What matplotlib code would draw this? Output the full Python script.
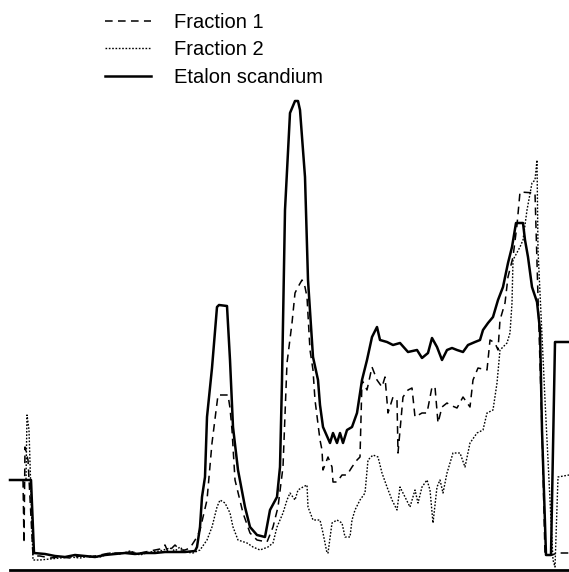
import matplotlib
matplotlib.use("Agg")
import matplotlib.pyplot as plt

# channel positions and intensities (arbitrary units)
etalon_x = [10, 31, 34, 45, 55, 65, 75, 85, 95, 105, 115, 125, 135, 145, 155, 165, 175, 185, 195,
            197, 200, 202, 205, 207, 212, 217, 219, 227, 230, 233, 238, 245, 250, 257, 265, 270, 277,
            280, 282, 285, 290, 295, 298, 300, 305, 308, 313, 318, 320, 323, 330, 333, 337, 340, 343,
            347, 352, 357, 362, 367, 372, 377, 380, 387, 393, 400, 408, 417, 422, 428, 432, 437, 442,
            447, 452, 457, 463, 468, 475, 480, 483, 488, 493, 498, 503, 508, 512, 516, 523, 525, 528,
            532, 537, 540, 542, 546, 551, 555, 569]
etalon_y = [90, 90, 17, 16, 14, 13, 15, 14, 13, 15, 16, 17, 16, 17, 17, 18, 18, 18, 19,
            23, 43, 73, 93, 153, 202, 263, 265, 264, 210, 143, 100, 63, 43, 35, 33, 60, 73,
            103, 190, 360, 457, 469, 469, 460, 393, 290, 213, 190, 165, 143, 127, 137, 127, 137, 127,
            140, 143, 157, 190, 210, 233, 243, 230, 228, 225, 227, 218, 220, 212, 217, 232, 223, 210,
            220, 222, 220, 218, 225, 228, 230, 240, 247, 253, 270, 283, 307, 323, 347, 347, 330, 313,
            283, 268, 240, 140, 15, 15, 228, 228]

frac1_x = [10, 23, 24, 25, 28, 33, 40, 50, 60, 70, 80, 90, 100, 110, 120, 130, 140, 150, 160, 165,
           168, 175, 180, 185, 190, 197, 200, 207, 212, 218, 228, 230, 232, 235, 243, 250, 257, 267,
           273, 278, 283, 287, 292, 295, 298, 302, 305, 307, 310, 313, 315, 320, 322, 323, 328, 332,
           333, 337, 342, 347, 352, 357, 360, 362, 367, 372, 377, 382, 385, 388, 393, 397, 398, 403,
           408, 412, 415, 422, 427, 432, 435, 438, 442, 447, 450, 457, 463, 470, 473, 478, 487, 490,
           495, 498, 500, 505, 508, 513, 517, 520, 535, 538, 542, 545, 552, 557, 569]
frac1_y = [90, 90, 27, 123, 110, 14, 14, 12, 13, 12, 14, 13, 15, 17, 17, 18, 17, 19, 21, 25,
           18, 25, 20, 20, 22, 33, 40, 70, 127, 175, 175, 162, 140, 90, 57, 37, 30, 28,
           43, 63, 103, 207, 247, 277, 283, 290, 283, 273, 220, 200, 170, 130, 120, 100, 113, 103,
           88, 88, 95, 95, 103, 110, 113, 190, 180, 203, 190, 183, 193, 157, 173, 170, 117, 173,
           180, 182, 153, 157, 157, 183, 183, 147, 163, 167, 165, 162, 173, 163, 190, 202, 200, 230,
           227, 220, 250, 267, 293, 313, 345, 378, 377, 273, 140, 15, 15, 17, 17]

frac2_x = [10, 26, 27, 29, 33, 40, 50, 60, 70, 80, 90, 100, 110, 120, 130, 140, 150, 160, 170, 175,
           180, 185, 193, 200, 207, 212, 217, 220, 225, 230, 233, 238, 247, 253, 260, 268, 273, 277,
           280, 283, 287, 290, 295, 298, 303, 307, 308, 313, 320, 323, 327, 328, 332, 337, 342, 345,
           350, 352, 355, 360, 365, 368, 373, 378, 382, 387, 392, 397, 400, 405, 410, 415, 418, 422,
           427, 430, 433, 437, 440, 443, 447, 453, 460, 465, 470, 477, 483, 487, 493, 497, 500, 507,
           510, 512, 513, 520, 523, 527, 532, 535, 537, 538, 545, 553, 555, 558, 569]
frac2_y = [90, 90, 155, 140, 10, 10, 11, 12, 13, 12, 14, 13, 17, 16, 19, 15, 18, 19, 22, 19,
           23, 18, 17, 20, 30, 43, 63, 70, 67, 57, 43, 30, 27, 23, 20, 23, 27, 43,
           50, 57, 70, 77, 70, 80, 83, 85, 63, 50, 50, 37, 17, 17, 47, 50, 47, 33,
           33, 50, 60, 70, 77, 110, 115, 113, 97, 83, 70, 60, 83, 73, 63, 80, 67, 83,
           90, 80, 47, 83, 90, 77, 97, 117, 117, 103, 127, 137, 140, 157, 160, 187, 220, 227,
           237, 267, 310, 323, 330, 360, 387, 390, 410, 320, 170, 10, 3, 93, 95]

labels = ["Fraction 1", "Fraction 2", "Etalon scandium"]

fig = plt.figure(figsize=(5.69, 5.72), dpi=100)
ax = fig.add_axes([0, 0, 1, 1])
ax.set_xlim(0, 569)
ax.set_ylim(-2, 570)
for s in ax.spines.values():
    s.set_visible(False)
ax.set_xticks([])
ax.set_yticks([])

l1, = ax.plot(frac1_x, frac1_y, color="black", lw=1.1, linestyle=(0, (5, 3.5)), label=labels[0])
l2, = ax.plot(frac2_x, frac2_y, color="black", lw=1.0, linestyle=(0, (1.2, 1.2)), label=labels[1])
l3, = ax.plot(etalon_x, etalon_y, color="black", lw=1.8, label=labels[2])
ax.axhline(0, xmin=10 / 569, xmax=1, color="black", lw=2)

ax.legend(handles=[l1, l2, l3], loc="upper left", bbox_to_anchor=(0.152, 1.009), frameon=False,
          prop={"family": "Liberation Sans", "size": 14.5}, handlelength=2.3, handletextpad=1.15,
          labelspacing=0.42)

fig.savefig("out.png", dpi=100)
